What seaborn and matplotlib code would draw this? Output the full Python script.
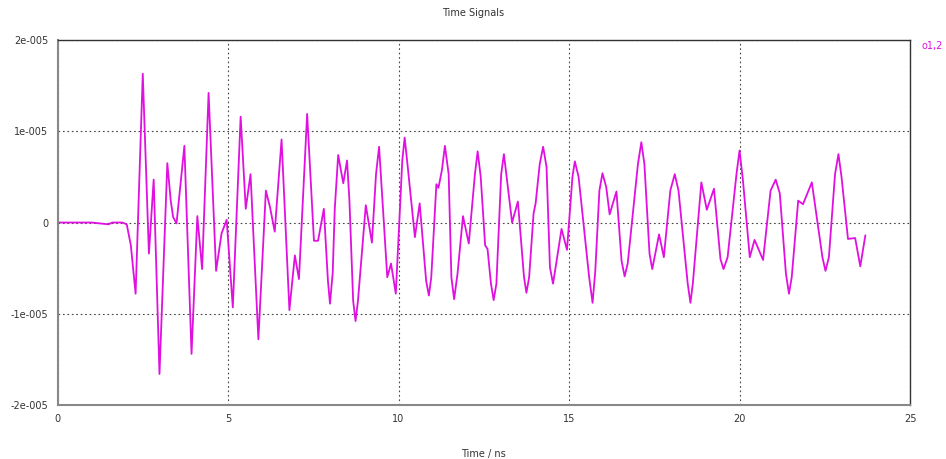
import pandas as pd
import seaborn as sns
import matplotlib
matplotlib.use("Agg")
import matplotlib.pyplot as plt
from matplotlib.ticker import FixedLocator, FixedFormatter

# signal o1,2 (time in ns, amplitude in units of 1e-5)
time_ns = [0.0, 1.0, 1.5, 1.6, 1.9, 2.03, 2.15, 2.29, 2.50, 2.68,
           2.82, 2.99, 3.22, 3.32, 3.39, 3.49, 3.72, 3.93, 4.10, 4.24,
           4.43, 4.65, 4.81, 4.96, 5.14, 5.37, 5.52, 5.66, 5.89, 6.11,
           6.23, 6.37, 6.57, 6.80, 6.96, 7.08, 7.32, 7.52, 7.64, 7.81,
           7.93, 7.99, 8.07, 8.13, 8.23, 8.38, 8.49, 8.56, 8.67, 8.74,
           8.81, 9.04, 9.22, 9.34, 9.43, 9.67, 9.78, 9.92, 10.11, 10.18,
           10.27, 10.48, 10.62, 10.81, 10.89, 10.96, 11.11, 11.17, 11.27, 11.36,
           11.47, 11.55, 11.63, 11.73, 11.89, 12.06, 12.24, 12.32, 12.41, 12.54,
           12.61, 12.71, 12.79, 12.87, 13.01, 13.09, 13.17, 13.33, 13.50, 13.68,
           13.75, 13.83, 13.96, 14.02, 14.14, 14.24, 14.34, 14.44, 14.53, 14.59,
           14.78, 14.94, 15.10, 15.17, 15.28, 15.59, 15.69, 15.77, 15.89, 15.98,
           16.09, 16.19, 16.39, 16.54, 16.63, 16.72, 17.02, 17.12, 17.21, 17.36,
           17.44, 17.64, 17.78, 17.97, 18.10, 18.21, 18.48, 18.56, 18.63, 18.88,
           19.04, 19.25, 19.44, 19.53, 19.65, 19.91, 20.00, 20.10, 20.30, 20.44,
           20.69, 20.91, 21.06, 21.18, 21.36, 21.45, 21.53, 21.72, 21.86, 22.12,
           22.43, 22.52, 22.62, 22.80, 22.90, 22.99, 23.18, 23.39, 23.54, 23.69]
amplitude = [0.0, 0.0, -0.02, 0.0, 0.0, -0.02, -0.25, -0.78, 1.63, -0.34,
             0.47, -1.66, 0.65, 0.24, 0.06, -0.01, 0.84, -1.44, 0.07, -0.51,
             1.42, -0.53, -0.12, 0.03, -0.93, 1.16, 0.15, 0.53, -1.28, 0.35,
             0.17, -0.10, 0.91, -0.96, -0.36, -0.62, 1.19, -0.20, -0.20, 0.15,
             -0.64, -0.89, -0.55, 0.15, 0.74, 0.43, 0.68, 0.24, -0.86, -1.08,
             -0.86, 0.19, -0.22, 0.53, 0.83, -0.60, -0.45, -0.78, 0.68, 0.93,
             0.61, -0.16, 0.21, -0.64, -0.80, -0.60, 0.42, 0.38, 0.57, 0.84,
             0.53, -0.60, -0.84, -0.56, 0.07, -0.23, 0.53, 0.78, 0.50, -0.25,
             -0.29, -0.67, -0.85, -0.67, 0.53, 0.75, 0.50, 0.00, 0.23, -0.60,
             -0.77, -0.60, 0.10, 0.21, 0.64, 0.83, 0.61, -0.49, -0.67, -0.53,
             -0.07, -0.30, 0.50, 0.67, 0.50, -0.60, -0.88, -0.53, 0.35, 0.54,
             0.39, 0.09, 0.34, -0.42, -0.59, -0.45, 0.64, 0.88, 0.64, -0.34,
             -0.51, -0.13, -0.38, 0.35, 0.53, 0.35, -0.67, -0.88, -0.67, 0.44,
             0.14, 0.37, -0.40, -0.51, -0.38, 0.53, 0.79, 0.46, -0.38, -0.19,
             -0.41, 0.35, 0.47, 0.32, -0.56, -0.78, -0.60, 0.24, 0.20, 0.44,
             -0.38, -0.53, -0.38, 0.53, 0.75, 0.50, -0.18, -0.17, -0.48, -0.14]

y_ticks = [-2e-5, -1e-5, 0, 1e-5, 2e-5]
y_labels = ["-2e-005", "-1e-005", "0", "1e-005", "2e-005"]
x_ticks = [0, 5, 10, 15, 20, 25]

df = pd.DataFrame({"t": time_ns, "v": [a * 1e-5 for a in amplitude]})

sns.set_style("white")
plt.rcParams["font.family"] = ["DejaVu Sans"]

fig = plt.figure(figsize=(9.46, 4.59), dpi=100)
ax = fig.add_axes([0.0608, 0.1176, 0.9012, 0.7952])

sns.lineplot(data=df, x="t", y="v", color="#e010e0", linewidth=1.3, ax=ax,
             estimator=None, sort=False)

ax.set_xlim(0, 25)
ax.set_ylim(-2e-5, 2e-5)
ax.xaxis.set_major_locator(FixedLocator(x_ticks))
ax.yaxis.set_major_locator(FixedLocator(y_ticks))
ax.yaxis.set_major_formatter(FixedFormatter(y_labels))
ax.tick_params(labelsize=7, colors="#333333", length=3, width=0.8)
ax.grid(True, color="#444444", linestyle=(0, (1.5, 2.5)), linewidth=0.8)

for side in ["left", "bottom"]:
    ax.spines[side].set_color("#888888")
    ax.spines[side].set_linewidth(1.5)
for side in ["top", "right"]:
    ax.spines[side].set_color("#333333")
    ax.spines[side].set_linewidth(1.0)

ax.set_xlabel("Time / ns", fontsize=7, color="#333333", labelpad=18)
ax.set_ylabel("")
fig.text(0.5, 0.972, "Time Signals", ha="center", va="center", fontsize=7, color="#333333")
fig.text(0.997, 0.899, "o1,2", ha="right", va="center", fontsize=7, color="#e010e0")

fig.savefig("out.png", dpi=100)
